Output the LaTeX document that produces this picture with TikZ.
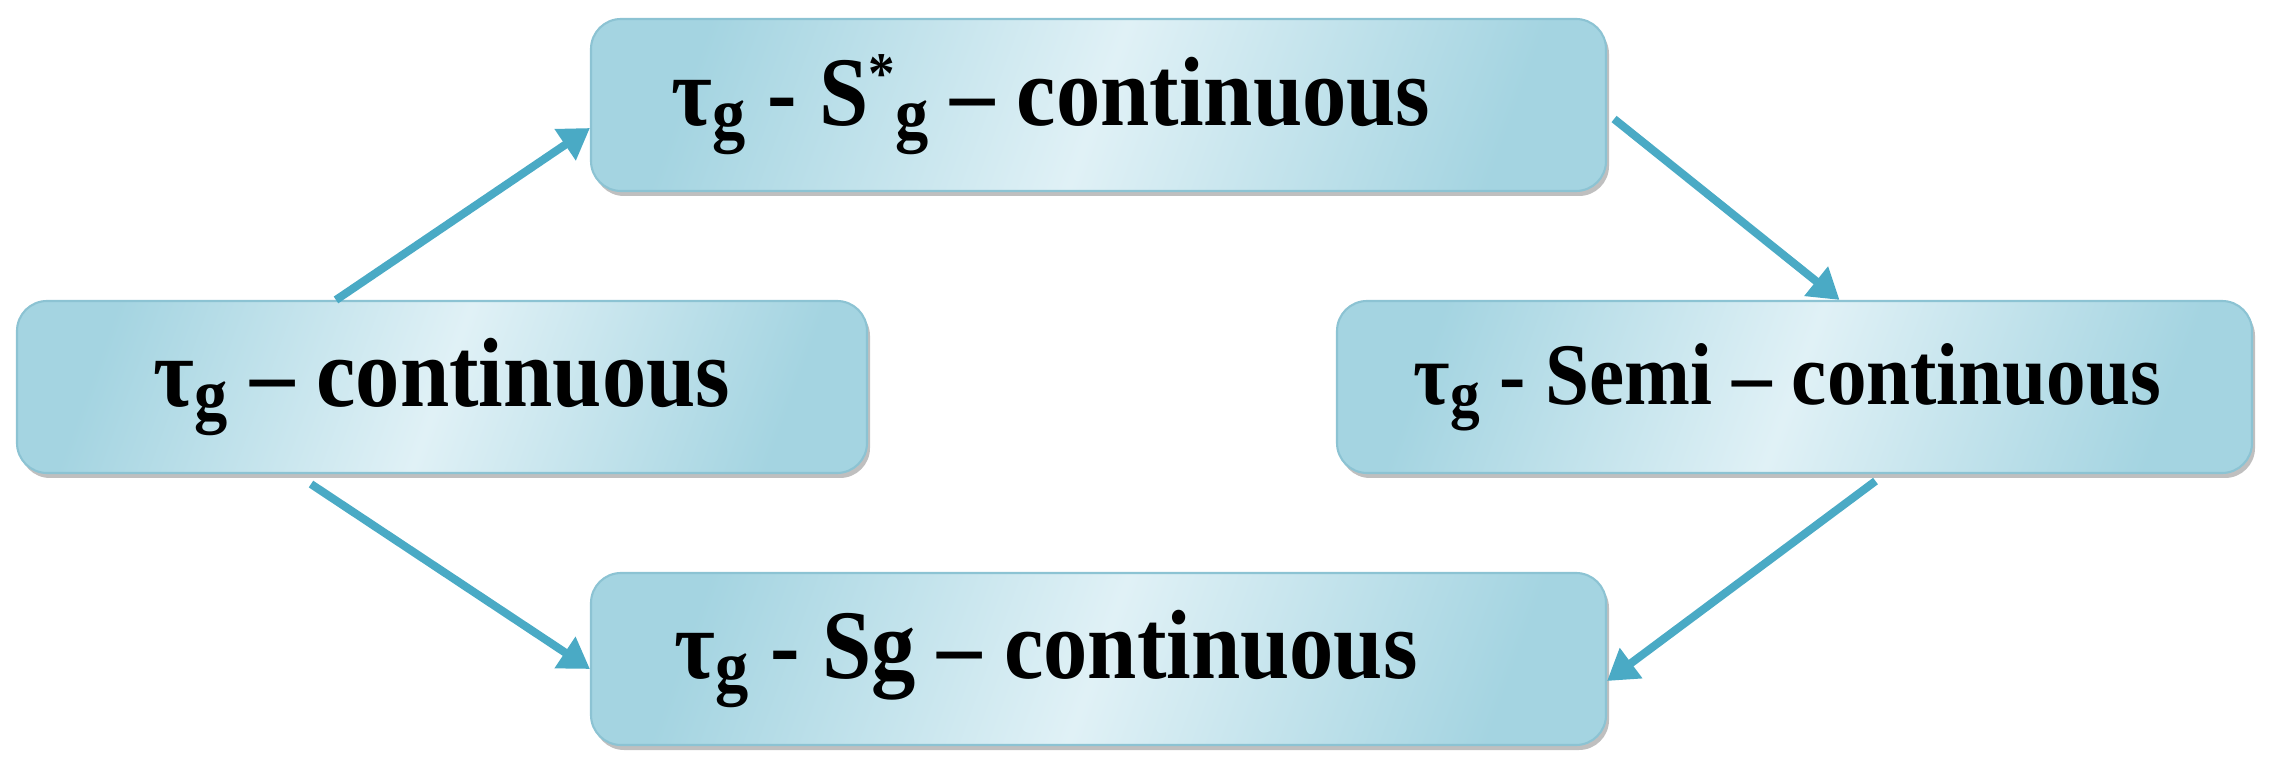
\documentclass[tikz,border=0pt]{standalone}
\usepackage{fontspec}
\setmainfont{Liberation Serif}[FakeStretch=0.9]
\usetikzlibrary{arrows.meta,shadows,calc}
\definecolor{arrowc}{HTML}{4AAAC5}
\definecolor{boxdark}{HTML}{A4D4E1}
\definecolor{boxlight}{HTML}{E0F1F6}
\definecolor{boxline}{HTML}{8CC3D3}
\newcommand{\lsub}[1]{\raisebox{-0.14em}{\scalebox{0.75}{#1}}}
\newcommand{\lsup}[1]{\raisebox{0.32em}{\scalebox{0.6}{#1}}}
\begin{document}
\begin{tikzpicture}[
  box/.style={rectangle, rounded corners=0.3cm, draw=boxline, line width=0.6pt,
    left color=boxdark, right color=boxdark, middle color=boxlight, shading angle=70,
    drop shadow={shadow xshift=0.03cm, shadow yshift=-0.05cm, fill=black, opacity=0.25},
    minimum height=1.72cm, inner sep=0pt, font=\fontsize{28}{31}\selectfont\bfseries},
  smalltext/.style={font=\fontsize{25}{28}\selectfont\bfseries},
  conn/.style={draw=arrowc, line width=2.3pt, -{Triangle[length=0.3cm,width=0.36cm]}}
]
\useasboundingbox (0,0) rectangle (22.72,-7.74);
\node[box, minimum width=10.15cm] (T) at (10.985,-1.05) {τ\lsub{g} - S\lsup{*}\lsub{g} – continuous\hspace*{0.95cm}};
\node[box, minimum width=8.50cm] (L) at (4.42,-3.87) {τ\lsub{g} – continuous};
\node[box, smalltext, minimum width=9.15cm] (R) at (17.945,-3.87) {τ\lsub{g} - Semi – continuous\hspace*{0.14cm}};
\node[box, minimum width=10.15cm] (B) at (10.985,-6.59) {τ\lsub{g} - Sg – continuous\hspace*{1.05cm}};
\draw[conn] ([xshift=-1.06cm]L.north) -- ([yshift=-0.23cm]T.west);
\draw[conn] ([xshift=-1.31cm,yshift=-0.1cm]L.south) -- ([yshift=-0.10cm]B.west);
\draw[conn] ([xshift=0.07cm,yshift=-0.14cm]T.east) -- ([xshift=0.45cm]R.north);
\draw[conn] ([xshift=0.81cm,yshift=-0.07cm]R.south) -- ([yshift=-0.22cm]B.east);
\end{tikzpicture}
\end{document}
